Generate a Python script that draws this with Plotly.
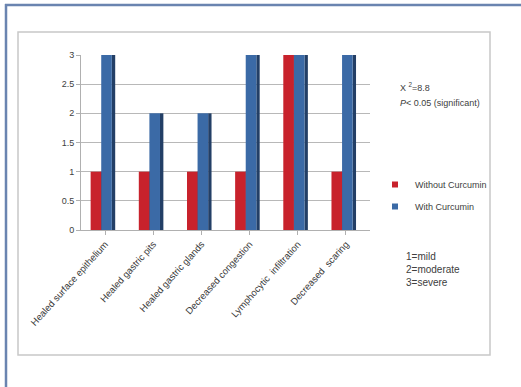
import plotly.graph_objects as go

categories = ["Healed surface epithelium", "Healed gastric pits", "Healed gastric glands",
              "Decreased congestion", "Lymphocytic  infiltration", "Decreased  scaring"]
without_curcumin = [1, 1, 1, 1, 3, 1]
with_curcumin = [3, 2, 2, 3, 3, 3]
y_ticks = [0, 0.5, 1, 1.5, 2, 2.5, 3]
y_tick_labels = ["0", "0.5", "1", "1.5", "2", "2.5", "3"]

RED, RED_DARK = "#c8222c", "#8e1218"
BLUE, BLUE_DARK = "#3b6aa6", "#233f66"

W, H = 521, 387
L, R, T, B = 81, 151, 55, 157
PW, PH = W - L - R, H - T - B


def px(x):
    return (x - L) / PW


def py(y):
    return (H - B - y) / PH


fig = go.Figure()
# side faces (3D look) drawn first
fig.add_trace(go.Bar(x=categories, y=without_curcumin, offset=-0.09, width=0.07,
                     marker=dict(color=RED_DARK, line=dict(width=0)), showlegend=False,
                     hoverinfo="skip"))
fig.add_trace(go.Bar(x=categories, y=with_curcumin, offset=0.14, width=0.07,
                     marker=dict(color=BLUE_DARK, line=dict(width=0)), showlegend=False,
                     hoverinfo="skip"))
# front faces
fig.add_trace(go.Bar(x=categories, y=without_curcumin, name="Without Curcumin", offset=-0.30,
                     width=0.22, marker=dict(color=RED, line=dict(width=0)), showlegend=False))
fig.add_trace(go.Bar(x=categories, y=with_curcumin, name="With Curcumin", offset=-0.08,
                     width=0.22, marker=dict(color=BLUE, line=dict(width=0)), showlegend=False))
# legend entries with small square keys
fig.add_trace(go.Scatter(x=[None], y=[None], mode="markers", name="Without Curcumin",
                         legendgroup="a", marker=dict(symbol="square", size=6, color=RED)))
fig.add_trace(go.Scatter(x=[None], y=[None], mode="markers", name="With Curcumin",
                         legendgroup="b", marker=dict(symbol="square", size=6, color=BLUE)))

fig.update_layout(
    width=W, height=H,
    margin=dict(l=L, r=R, t=T, b=B, autoexpand=False),
    paper_bgcolor="white", plot_bgcolor="white",
    barmode="overlay",
    font=dict(family="Liberation Sans, Arial, sans-serif", size=9, color="#404040"),
    showlegend=True,
    legend=dict(x=px(375), y=py(170), xanchor="left", yanchor="top",
                font=dict(size=9, color="#404040"), tracegroupgap=3,
                itemwidth=30, bgcolor="rgba(0,0,0,0)"),
    xaxis=dict(showgrid=False, showline=True, linecolor="#b0b0b0", ticks="outside",
               tickcolor="#b0b0b0", ticklen=4, tickangle=-48,
               tickfont=dict(size=9.5, color="#3a3a3a")),
    yaxis=dict(range=[0, 3], tickvals=y_ticks, ticktext=y_tick_labels, showgrid=True,
               gridcolor="#b8b8b8", gridwidth=1, showline=True, linecolor="#b0b0b0",
               ticks="outside", tickcolor="#b0b0b0", ticklen=4, zeroline=False,
               tickfont=dict(size=9, color="#404040")),
    shapes=[
        dict(type="rect", xref="paper", yref="paper", x0=px(18), x1=px(490), y0=py(355), y1=py(32),
             line=dict(color="#c8c8c8", width=1.5), fillcolor="rgba(0,0,0,0)", layer="below"),
        dict(type="line", xref="paper", yref="paper", x0=px(6), x1=px(6), y0=py(4), y1=py(390),
             line=dict(color="#6a84b0", width=2.5)),
        dict(type="line", xref="paper", yref="paper", x0=px(5), x1=px(521), y0=py(5), y1=py(5),
             line=dict(color="#6a84b0", width=2.5)),
    ],
    annotations=[
        dict(xref="paper", yref="paper", x=px(398), y=py(87), xanchor="left", yanchor="middle",
             text="X <sup>2</sup>=8.8", showarrow=False, font=dict(size=9, color="#404040")),
        dict(xref="paper", yref="paper", x=px(398), y=py(103), xanchor="left", yanchor="middle",
             text="<i>P</i>< 0.05 (significant)", showarrow=False, font=dict(size=9, color="#404040")),
        dict(xref="paper", yref="paper", x=px(404), y=py(269), xanchor="left", yanchor="middle",
             align="left", text="1=mild<br>2=moderate<br>3=severe", showarrow=False,
             font=dict(size=10, color="#404040")),
    ],
)

fig.write_html("out.html")
